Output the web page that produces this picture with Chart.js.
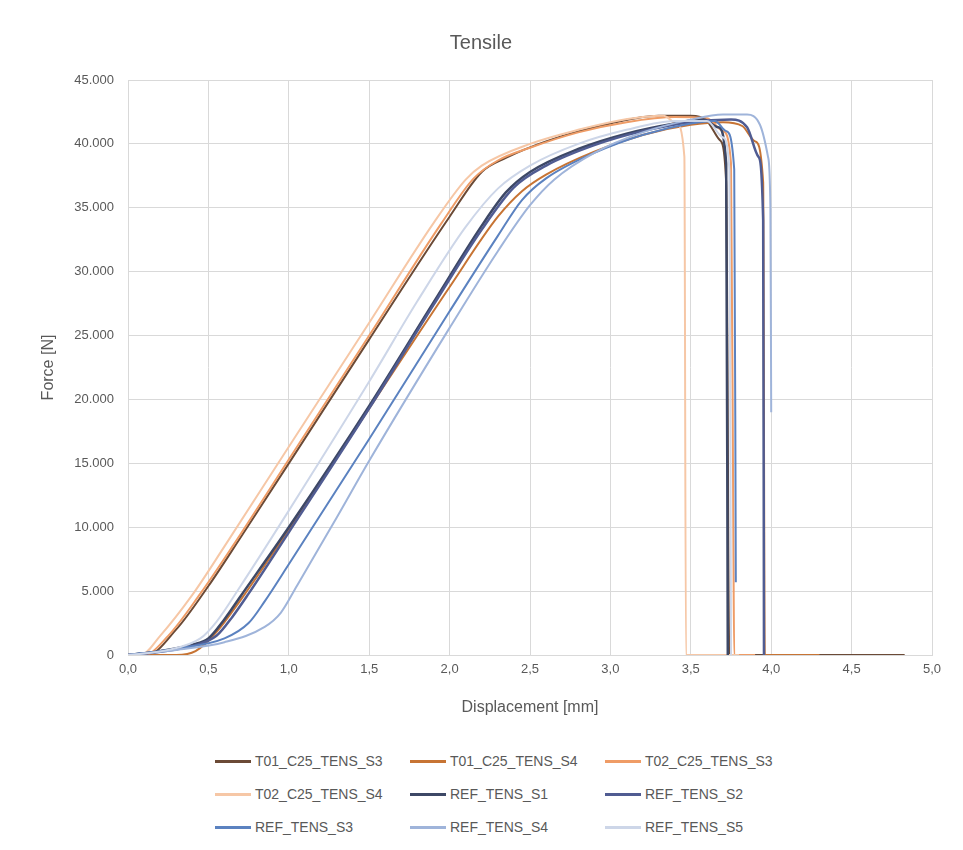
<!DOCTYPE html>
<html>
<head>
<meta charset="utf-8">
<style>
  body { margin: 0; background: #fff; font-family: "Liberation Sans", Arial, sans-serif; }
  #wrap { position: relative; width: 963px; height: 850px; }
  #legend { position: absolute; left: 215px; top: 750px; display: grid;
            grid-template-columns: 195px 195px 195px; row-gap: 11px; }
  .item { display: flex; align-items: center; font-size: 14px; color: #595959; height: 22px; }
  .item span.ln { display: inline-block; width: 36px; height: 3px; margin-right: 4px; }
</style>
</head>
<body>
<div id="wrap">
  <canvas id="tensile" width="963" height="740"></canvas>
  <div id="legend"></div>
</div>
<script src="https://cdn.jsdelivr.net/npm/chart.js"></script>
<script>
  // displacement [mm], force [N]
  const T01_C25_TENS_S3 = [[0,0],[0.12,0],[0.3,2000],[0.5,5400],[0.7,9200],[1.0,15000],[1.5,24700],[2.0,34300],[2.2,37800],[2.35,38900],[2.6,40200],[3.0,41600],[3.3,42200],[3.5,42200],[3.6,41800],[3.68,40300],[3.72,37000],[3.74,0],[4.83,0]];
  const T01_C25_TENS_S4 = [[0,0],[0.3,0],[0.42,300],[0.55,1800],[0.7,4300],[1.0,9800],[1.5,19300],[2.0,28800],[2.3,34300],[2.45,36300],[2.6,37600],[2.9,39400],[3.2,40700],[3.5,41500],[3.7,41700],[3.82,41400],[3.9,40200],[3.95,37000],[3.96,0],[4.3,0]];
  const T02_C25_TENS_S3 = [[0,0],[0.1,0],[0.25,1500],[0.45,4800],[0.65,8500],[1.0,15300],[1.5,25000],[1.95,33800],[2.15,37300],[2.3,38700],[2.5,39700],[2.8,40900],[3.1,41700],[3.4,42100],[3.6,42000],[3.7,41000],[3.75,38500],[3.765,8500],[3.77,0],[3.9,0]];
  const T02_C25_TENS_S4 = [[0,0],[0.08,0],[0.2,1500],[0.4,4700],[0.6,8500],[1.0,16300],[1.5,26000],[1.9,33800],[2.1,37200],[2.2,38300],[2.5,40000],[2.8,41100],[3.0,41700],[3.2,42100],[3.33,42200],[3.41,41600],[3.46,39000],[3.47,0],[3.8,0]];
  const REF_TENS_S1 = [[0,0],[0.2,300],[0.4,800],[0.5,1300],[0.6,2800],[0.7,4600],[1.0,10000],[1.5,19500],[1.9,27600],[2.2,33600],[2.35,36200],[2.5,37800],[2.8,39600],[3.1,40800],[3.4,41600],[3.58,41900],[3.67,41300],[3.72,38500],[3.73,0]];
  const REF_TENS_S2 = [[0,0],[0.2,250],[0.4,700],[0.55,1500],[0.65,3000],[0.75,4800],[1.0,9600],[1.5,19300],[1.9,27400],[2.2,33300],[2.4,36600],[2.6,38300],[2.9,39900],[3.2,41000],[3.5,41700],[3.75,41900],[3.85,41300],[3.92,39000],[3.95,34000],[3.955,0]];
  const REF_TENS_S3 = [[0,0],[0.3,500],[0.6,1300],[0.75,2500],[0.85,4200],[1.0,7100],[1.5,16900],[2.0,26900],[2.3,32800],[2.45,35600],[2.6,37300],[2.9,39300],[3.2,40700],[3.5,41600],[3.65,41800],[3.72,41000],[3.77,38000],[3.78,5700]];
  const REF_TENS_S4 = [[0,0],[0.3,400],[0.6,1000],[0.85,2200],[0.95,3300],[1.05,5400],[1.3,10800],[1.5,15200],[2.0,25600],[2.3,31600],[2.5,35200],[2.65,37200],[2.9,39300],[3.2,40900],[3.5,41900],[3.7,42300],[3.85,42300],[3.93,41500],[3.98,39000],[3.995,35000],[4.0,19000]];
  const REF_TENS_S5 = [[0,0],[0.25,400],[0.45,1300],[0.55,2600],[0.7,5400],[1.0,11300],[1.5,21400],[1.8,27700],[2.1,33500],[2.3,36500],[2.5,38300],[2.8,40000],[3.1,41100],[3.4,41800],[3.6,41800],[3.7,40500],[3.74,38000],[3.75,0]];

  const seriesNames = ["T01_C25_TENS_S3","T01_C25_TENS_S4","T02_C25_TENS_S3","T02_C25_TENS_S4","REF_TENS_S1","REF_TENS_S2","REF_TENS_S3","REF_TENS_S4","REF_TENS_S5"];
  const seriesData = [T01_C25_TENS_S3,T01_C25_TENS_S4,T02_C25_TENS_S3,T02_C25_TENS_S4,REF_TENS_S1,REF_TENS_S2,REF_TENS_S3,REF_TENS_S4,REF_TENS_S5];
  const seriesColors = ["#6b4a36","#c77434","#ef9c66","#f6c7a6","#3d4866","#505c92","#5b82c0","#9fb4da","#cdd6e8"];

  const xTickLabels = ["0,0","0,5","1,0","1,5","2,0","2,5","3,0","3,5","4,0","4,5","5,0"];
  const yTickLabels = ["0","5.000","10.000","15.000","20.000","25.000","30.000","35.000","40.000","45.000"];

  const grid = "#d9d9d9";
  const txt = "#595959";

  const chart = new Chart(document.getElementById("tensile"), {
    type: "scatter",
    data: {
      datasets: seriesNames.map((name, i) => ({
        label: name,
        data: seriesData[i].map(p => ({ x: p[0], y: p[1] })),
        showLine: true,
        borderColor: seriesColors[i],
        backgroundColor: seriesColors[i],
        borderWidth: i === 4 || i === 5 ? 2.5 : 2,
        pointRadius: 0,
        cubicInterpolationMode: "monotone"
      })).reverse()
    },
    options: {
      responsive: false,
      animation: false,
      layout: { padding: { left: 30, right: 31, top: 0, bottom: 15 } },
      plugins: {
        legend: { display: false },
        tooltip: { enabled: false },
        title: {
          display: true, text: "Tensile", color: txt,
          font: { family: "Liberation Sans", size: 20, weight: "normal" },
          padding: { top: 31, bottom: 25 }
        }
      },
      scales: {
        x: {
          type: "linear", min: 0, max: 5,
          afterFit: s => { s.height = 70; },
          ticks: { stepSize: 0.5, padding: 7, color: txt, font: { family: "Liberation Sans", size: 13 },
                   callback: (v, i) => xTickLabels[i] },
          grid: { color: grid, drawTicks: false },
          border: { color: grid },
          title: { display: true, text: "Displacement [mm]", color: txt,
                   font: { family: "Liberation Sans", size: 16 }, padding: { top: 0, bottom: 8 } }
        },
        y: {
          min: 0, max: 45000,
          afterFit: s => { s.width = 98; },
          ticks: { stepSize: 5000, padding: 14, color: txt, font: { family: "Liberation Sans", size: 13 },
                   callback: (v, i) => yTickLabels[i] },
          grid: { color: grid, drawTicks: false },
          border: { color: grid },
          title: { display: true, text: "Force [N]", color: txt,
                   font: { family: "Liberation Sans", size: 16 }, padding: { top: 9, bottom: 0 } }
        }
      }
    }
  });

  const legend = document.getElementById("legend");
  seriesNames.forEach((name, i) => {
    const d = document.createElement("div");
    d.className = "item";
    d.innerHTML = '<span class="ln" style="background:' + seriesColors[i] + '"></span>' + name;
    legend.appendChild(d);
  });
</script>
</body>
</html>
